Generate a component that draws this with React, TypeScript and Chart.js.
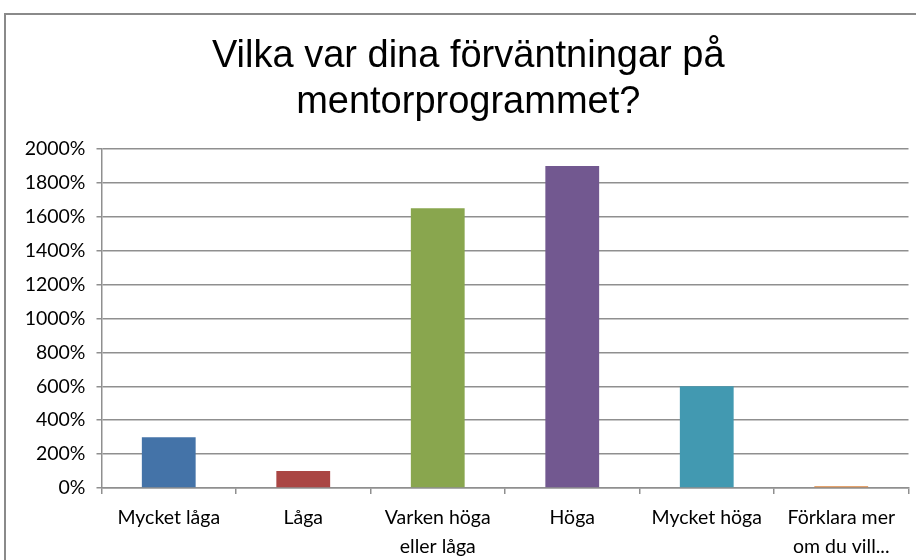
import React, { useEffect, useRef } from "react";
import { Chart, registerables } from "chart.js";

Chart.register(...registerables);

const titleLines = ["Vilka var dina förväntningar på", "mentorprogrammet?"];
const categories: (string | string[])[] = [
  "Mycket låga",
  "Låga",
  ["Varken höga", "eller låga"],
  "Höga",
  "Mycket höga",
  ["Förklara mer", "om du vill..."],
];
const values = [300, 100, 1650, 1900, 600, 10];
const barColors = ["#4473A8", "#AA4644", "#89A64E", "#725890", "#4299B1", "#DB843D"];
const yMin = 0;
const yMax = 2000;
const yStep = 200;

const titleShift = {
  id: "titleShift",
  afterLayout(chart: any) {
    const t = chart.titleBlock;
    if (t) {
      t.left += 14;
      t.right += 14;
    }
  },
};

export default function App() {
  const ref = useRef<HTMLCanvasElement | null>(null);

  useEffect(() => {
    if (!ref.current) return;
    const gridColor = "#8f8f8f";
    const chart = new Chart(ref.current, {
      type: "bar",
      data: {
        labels: categories,
        datasets: [
          {
            data: values,
            backgroundColor: barColors,
            borderWidth: 0,
            barPercentage: 0.4,
            categoryPercentage: 1,
          },
        ],
      },
      plugins: [titleShift],
      options: {
        animation: false,
        responsive: false,
        maintainAspectRatio: false,
        layout: { padding: { left: 0, right: 7.5, top: 0, bottom: 0 } },
        plugins: {
          legend: { display: false },
          tooltip: { enabled: false },
          title: {
            display: true,
            text: titleLines,
            color: "#000",
            font: { family: "'Liberation Sans', Arial, sans-serif", size: 38, weight: "normal", lineHeight: 1.2 },
            padding: { top: 34, bottom: 23.8 },
          },
        },
        scales: {
          x: {
            offset: true,
            grid: {
              display: true,
              drawOnChartArea: false,
              offset: true,
              color: gridColor,
              lineWidth: 1.5,
              tickLength: 6,
            },
            border: { display: true, color: gridColor, width: 1.5 },
            ticks: {
              color: "#000",
              font: { family: "Lato, sans-serif", size: 19.5, lineHeight: 1.48 },
              padding: 9.5,
              maxRotation: 0,
              autoSkip: false,
            },
            afterFit: (s: any) => {
              s.height = 72;
            },
          },
          y: {
            min: yMin,
            max: yMax,
            grid: {
              color: gridColor,
              lineWidth: 1.5,
              tickLength: 5,
            },
            border: { display: true, color: gridColor, width: 1.5 },
            ticks: {
              stepSize: yStep,
              color: "#000",
              font: { family: "Lato, sans-serif", size: 19.5 },
              padding: 11,
              callback: (v: any) => `${v}%`,
            },
            afterFit: (s: any) => {
              s.width = 101.5;
            },
          },
        },
      },
    });
    return () => chart.destroy();
  }, []);

  return (
    <div
      style={{
        position: "fixed",
        left: 0,
        top: 0,
        width: 916,
        height: 560,
        overflow: "hidden",
        background: "#fff",
      }}
    >
      <div
        style={{
          position: "absolute",
          left: 4,
          top: 13,
          width: 960,
          height: 600,
          border: "2px solid #8a8a8a",
          boxSizing: "border-box",
        }}
      />
      <canvas
        ref={ref}
        width={916}
        height={560}
        style={{ position: "absolute", left: 0, top: 0, width: 916, height: 560 }}
      />
    </div>
  );
}
